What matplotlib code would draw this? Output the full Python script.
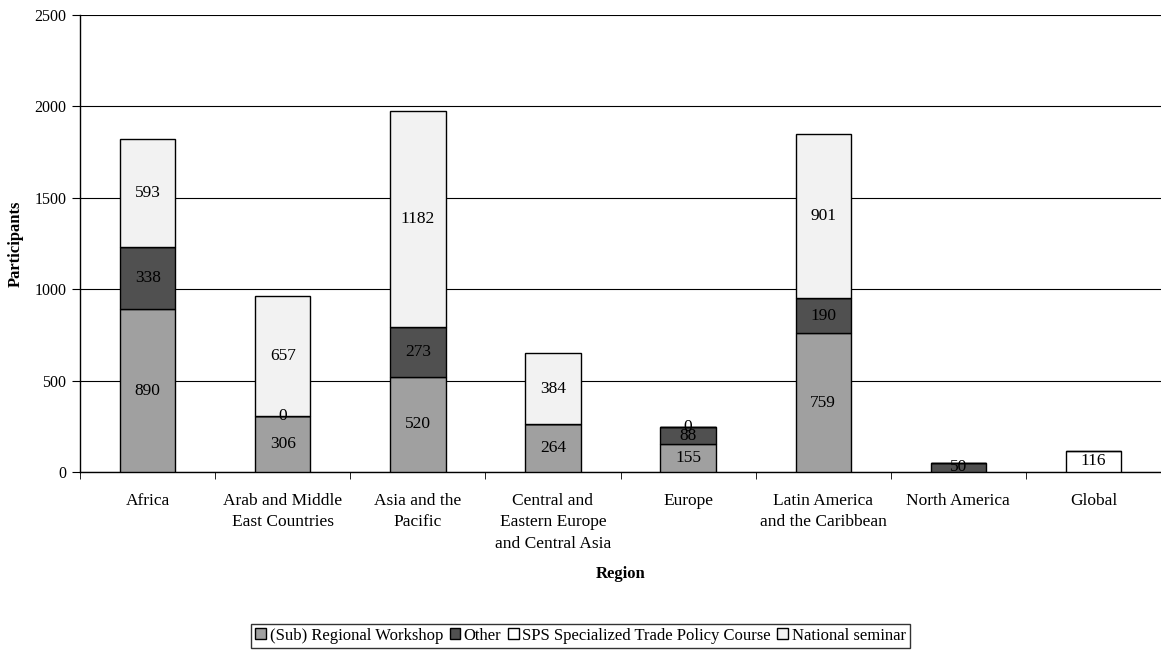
import numpy as np
import matplotlib.pyplot as plt

plt.rcParams['font.family'] = ['Liberation Serif', 'DejaVu Serif']

regions = ['Africa', 'Arab and Middle\nEast Countries', 'Asia and the\nPacific',
           'Central and\nEastern Europe\nand Central Asia', 'Europe',
           'Latin America\nand the Caribbean', 'North America', 'Global']
regional = [890, 306, 520, 264, 155, 759, np.nan, np.nan]
other = [338, 0, 273, np.nan, 88, 190, 50, np.nan]
sps = [np.nan, np.nan, np.nan, np.nan, np.nan, np.nan, np.nan, 116]
national = [593, 657, 1182, 384, 0, 901, np.nan, np.nan]

series = [('(Sub) Regional Workshop', regional, '#a0a0a0'),
          ('Other', other, '#505050'),
          ('SPS Specialized Trade Policy Course', sps, '#ffffff'),
          ('National seminar', national, '#f2f2f2')]

fig = plt.figure(figsize=(11.61, 6.5), dpi=100)
ax = fig.add_axes([0.069, 0.274, 0.931, 0.703])

x = np.arange(len(regions))
bottom = np.zeros(len(regions))
handles = []
for name, vals, col in series:
    v = np.array(vals, dtype=float)
    h = np.nan_to_num(v)
    ax.bar(x, h, 0.41, bottom=bottom, color=col, edgecolor='black', linewidth=1, zorder=3)
    for i, val in enumerate(v):
        if not np.isnan(val):
            ax.text(x[i], bottom[i] + h[i] / 2, '%d' % val, ha='center', va='center',
                    fontsize=12.5, zorder=4)
    bottom = bottom + h
    handles.append(plt.Rectangle((0, 0), 1, 1, facecolor=col, edgecolor='black', linewidth=1))

ax.set_xlim(-0.5, len(regions) - 0.5)
ax.set_ylim(0, 2500)
ax.set_yticks(range(0, 2501, 500))
ax.yaxis.grid(True, color='black', linewidth=0.8, zorder=0)
ax.set_xticks(x)
ax.set_xticklabels(regions, fontsize=12.5, linespacing=1.45)
ax.set_xticks(np.arange(-0.5, len(regions), 1), minor=True)
ax.tick_params(axis='x', which='major', length=0, pad=15)
ax.tick_params(axis='x', which='minor', length=5, direction='out', color='black')
ax.tick_params(axis='y', labelsize=11.5, length=6, direction='out', pad=4)
for s in ['top', 'right']:
    ax.spines[s].set_visible(False)
ax.spines['left'].set_linewidth(1)
ax.spines['bottom'].set_linewidth(1)

ax.set_ylabel('Participants', fontsize=12, fontweight='bold')
ax.yaxis.set_label_coords(-0.052, 0.5)
ax.set_xlabel('Region', fontsize=12, fontweight='bold')
ax.xaxis.set_label_coords(0.5, -0.205)

leg = fig.legend(handles, [s[0] for s in series], loc='center', bbox_to_anchor=(0.5, 0.022),
                 ncol=4, fontsize=12, frameon=True, fancybox=False, edgecolor='black',
                 handlelength=0.65, handleheight=0.65, handletextpad=0.2, columnspacing=0.4,
                 borderpad=0.25, borderaxespad=0)
leg.get_frame().set_linewidth(1)

fig.savefig('out.png', dpi=100)
